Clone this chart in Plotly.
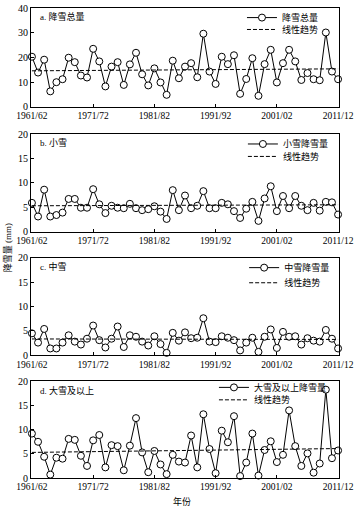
import plotly.graph_objects as go

# ---------------- data ----------------
season_start = list(range(1961, 2012))          # 1961/62 ... 2011/12
tick_years = [1961, 1971, 1981, 1991, 2001, 2011]
tick_labels = ["1961/62", "1971/72", "1981/82", "1991/92", "2001/02", "2011/12"]

total_snow = [20.3, 13.9, 19.1, 6.3, 10.0, 11.2, 19.9, 18.1, 12.7, 11.9,
              23.5, 18.4, 8.3, 16.3, 18.1, 8.9, 17.2, 21.9, 13.2, 8.7,
              15.6, 9.9, 4.9, 18.7, 11.6, 16.3, 17.7, 12.0, 29.6, 14.3,
              9.3, 20.3, 17.3, 20.9, 5.3, 11.3, 19.7, 4.5, 17.3, 23.1,
              9.9, 17.7, 23.1, 18.4, 10.9, 13.7, 11.2, 10.8, 30.1, 14.3, 11.2]
light_snow = [5.9, 3.1, 8.6, 3.1, 3.4, 3.9, 6.7, 6.7, 4.9, 4.9,
              8.7, 5.6, 3.8, 5.3, 4.9, 4.8, 5.7, 4.8, 4.4, 4.6,
              5.2, 4.1, 2.6, 8.5, 4.4, 7.4, 4.8, 5.3, 8.3, 4.8,
              4.8, 5.9, 5.6, 4.2, 2.8, 4.7, 6.1, 2.2, 6.8, 9.3,
              4.2, 7.3, 4.8, 7.3, 5.3, 4.4, 5.9, 4.3, 6.1, 6.0, 3.5]
moderate_snow = [4.5, 2.6, 5.4, 1.4, 1.4, 2.6, 4.1, 2.8, 2.2, 3.4,
                 6.1, 3.1, 1.6, 3.4, 5.9, 1.7, 4.1, 3.8, 2.8, 2.0,
                 3.9, 2.3, 0.5, 4.6, 3.0, 4.7, 3.5, 3.6, 7.6, 2.8,
                 2.7, 3.9, 3.6, 3.1, 1.0, 2.6, 3.6, 0.7, 3.8, 5.3,
                 1.5, 4.8, 3.8, 3.9, 2.2, 3.5, 3.0, 2.8, 5.2, 3.4, 1.4]
heavy_snow = [9.2, 7.5, 4.4, 0.7, 4.2, 4.0, 8.1, 7.9, 4.6, 2.5,
              7.8, 8.9, 2.2, 6.8, 6.6, 1.6, 6.7, 12.4, 5.3, 1.2,
              5.6, 2.8, 0.8, 4.8, 3.4, 3.2, 8.8, 2.2, 13.2, 6.0,
              1.0, 9.8, 7.4, 12.8, 0.4, 3.2, 9.2, 0.5, 5.8, 7.6,
              3.3, 4.8, 14.0, 6.6, 2.5, 5.1, 1.1, 3.0, 18.3, 4.1, 5.7]

trend_years = [1961, 2011]
trend_total = [14.6, 15.4]
trend_light = [5.3, 5.5]
trend_moderate = [3.35, 3.25]
trend_heavy = [5.3, 6.1]

series_names = ["降雪总量", "小雪降雪量", "中雪降雪量", "大雪及以上降雪量"]
panel_titles = ["a. 降雪总量", "b. 小雪", "c. 中雪", "d. 大雪及以上"]
trend_name = "线性趋势"
y_ticks = [[0, 10, 20, 30, 40], [0, 5, 10, 15, 20], [0, 5, 10, 15, 20], [0, 5, 10, 15, 20]]
y_title = "降雪量 (mm)"
x_title = "年份"

# ---------------- figure ----------------
FONT = "Liberation Serif, Times New Roman, Noto Sans CJK SC, serif"
values = [total_snow, light_snow, moderate_snow, heavy_snow]
trends = [trend_total, trend_light, trend_moderate, trend_heavy]
domains = [[0.7895, 1.0], [0.5242, 0.7318], [0.2611, 0.4686], [0.0, 0.2055]]
legend_x = [0.685, 0.688, 0.692, 0.594]
legend_y = [[0.9796, 0.9543], [0.7107, 0.6842], [0.4476, 0.4154], [0.1928, 0.1663]]

fig = go.Figure()
layout = dict(
    width=356, height=507,
    margin=dict(l=31, r=17, t=3, b=29),
    paper_bgcolor="white", plot_bgcolor="white",
    font=dict(family=FONT, size=9, color="black"),
    showlegend=True,
    annotations=[],
)

for i in range(4):
    sfx = "" if i == 0 else str(i + 1)
    lg1 = "legend" + ("" if i == 0 else str(2 * i + 1))
    lg2 = "legend" + str(2 * i + 2)
    fig.add_trace(go.Scatter(
        x=season_start, y=values[i], name=series_names[i],
        mode="lines+markers", xaxis="x" + sfx, yaxis="y" + sfx,
        line=dict(color="black", width=1),
        marker=dict(symbol="circle", size=7, color="white",
                    line=dict(color="black", width=1)),
        cliponaxis=False, legend=lg1,
    ))
    fig.add_trace(go.Scatter(
        x=trend_years, y=trends[i], name=trend_name,
        mode="lines", xaxis="x" + sfx, yaxis="y" + sfx,
        line=dict(color="black", width=1, dash="4px,2px"),
        legend=lg2,
    ))
    yt = y_ticks[i]
    layout["xaxis" + sfx] = dict(
        domain=[0, 1], anchor="y" + sfx, range=[1960.85, 2011.15],
        tickmode="array", tickvals=tick_years, ticktext=tick_labels,
        ticks="inside", ticklen=3, tickwidth=1, tickcolor="black",
        showline=True, linecolor="black", linewidth=1, mirror=True,
        showgrid=False, zeroline=False, tickfont=dict(size=9.5, family=FONT),
    )
    layout["yaxis" + sfx] = dict(
        domain=domains[i], anchor="x" + sfx, range=[yt[0], yt[-1]],
        tickmode="array", tickvals=yt,
        ticks="inside", ticklen=3, tickwidth=1, tickcolor="black",
        showline=True, linecolor="black", linewidth=1, mirror=True,
        showgrid=False, zeroline=False, tickfont=dict(size=10, family=FONT),
    )
    for lg, yy in ((lg1, legend_y[i][0]), (lg2, legend_y[i][1])):
        layout[lg] = dict(
            x=legend_x[i], y=yy, xanchor="left", yanchor="middle",
            bgcolor="rgba(0,0,0,0)", borderwidth=0,
            font=dict(size=9, family=FONT), itemwidth=30,
        )
    layout["annotations"].append(dict(
        text=panel_titles[i], xref="x" + sfx + " domain", yref="y" + sfx + " domain",
        x=0.023, y=0.91, xanchor="left", yanchor="middle", showarrow=False,
        font=dict(size=9, family=FONT),
    ))

layout["annotations"].append(dict(
    text=y_title, xref="paper", yref="paper", x=-0.078, y=0.491,
    textangle=-90, showarrow=False, xanchor="center", yanchor="middle",
    font=dict(size=9, family=FONT),
))
layout["annotations"].append(dict(
    text=x_title, xref="paper", yref="paper", x=0.49, y=-0.05,
    showarrow=False, xanchor="center", yanchor="middle",
    font=dict(size=9, family=FONT),
))

fig.update_layout(**layout)
fig.write_html("out.html", config={"displayModeBar": False},
               post_script="document.body.style.margin='0';")
